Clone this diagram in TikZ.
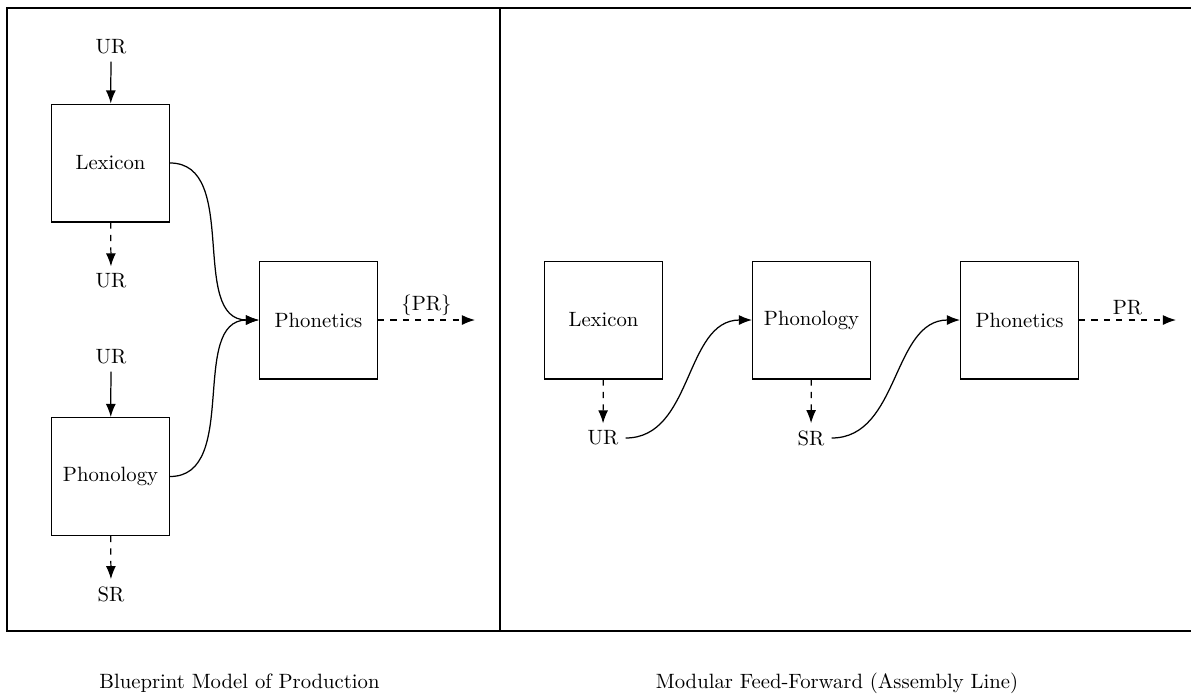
\documentclass[tikz,border=0pt]{standalone}
\usetikzlibrary{arrows.meta}
\begin{document}
\begin{tikzpicture}[x=0.016978cm,y=-0.016978cm,
  module/.style={draw,semithick,minimum width=2cm,minimum height=2cm,inner sep=0pt},
  lbl/.style={inner sep=3.33pt},
  feed/.style={semithick,-{Latex[length=6.3pt,width=4.8pt]}},
  emit/.style={semithick,dashed,-{Latex[length=6.3pt,width=4.8pt]}},
  frame/.style={thick}]
\useasboundingbox (0,0) rectangle (1191,693);
\clip (0,0) rectangle (1191,693);
% frames
\draw[frame] (7,8) rectangle (1210,631);
\draw[frame] (500,8) -- (500,631);
% left panel
\node[module] (lex1) at (110.5,163) {Lexicon};
\node[module] (pho1) at (110.5,476.5) {Phonology};
\node[module] (phn1) at (318.5,320) {Phonetics};
\node[lbl] (ur1) at (111,47) {UR};
\node[lbl] (ur2) at (111,281) {UR};
\node[lbl] (ur3) at (111,357) {UR};
\node[lbl] (sr1) at (111,594) {SR};
\coordinate (pr1) at (475,320);
\draw[feed] (ur1) -- (lex1);
\draw[emit] (lex1) -- (ur2);
\draw[feed] (ur3) -- (pho1);
\draw[emit] (pho1) -- (sr1);
\draw[feed] (lex1.east) to[out=0,in=180] (phn1.west);
\draw[feed] (pho1.east) to[out=0,in=180] (phn1.west);
\draw[emit] (phn1.east) -- node[above,inner sep=2pt] {\{PR\}} (pr1);
% right panel
\node[module] (lex2) at (603.5,320) {Lexicon};
\node[module] (pho2) at (811.5,320) {Phonology};
\node[module] (phn2) at (1019.5,320) {Phonetics};
\node[lbl] (ur4) at (603,438) {UR};
\node[lbl] (sr2) at (811,438) {SR};
\coordinate (pr2) at (1176,320);
\draw[emit] (lex2) -- (ur4);
\draw[emit] (pho2) -- (sr2);
\draw[feed] (ur4.east) to[out=0,in=180] (pho2.west);
\draw[feed] (sr2.east) to[out=0,in=180] (phn2.west);
\draw[emit] (phn2.east) -- node[above,inner sep=2pt] {PR} (pr2);
% captions
\node (cap1) at (239.5,683) {Blueprint Model of Production};
\node (cap2) at (837,683) {Modular Feed-Forward (Assembly Line)};
\end{tikzpicture}
\end{document}
